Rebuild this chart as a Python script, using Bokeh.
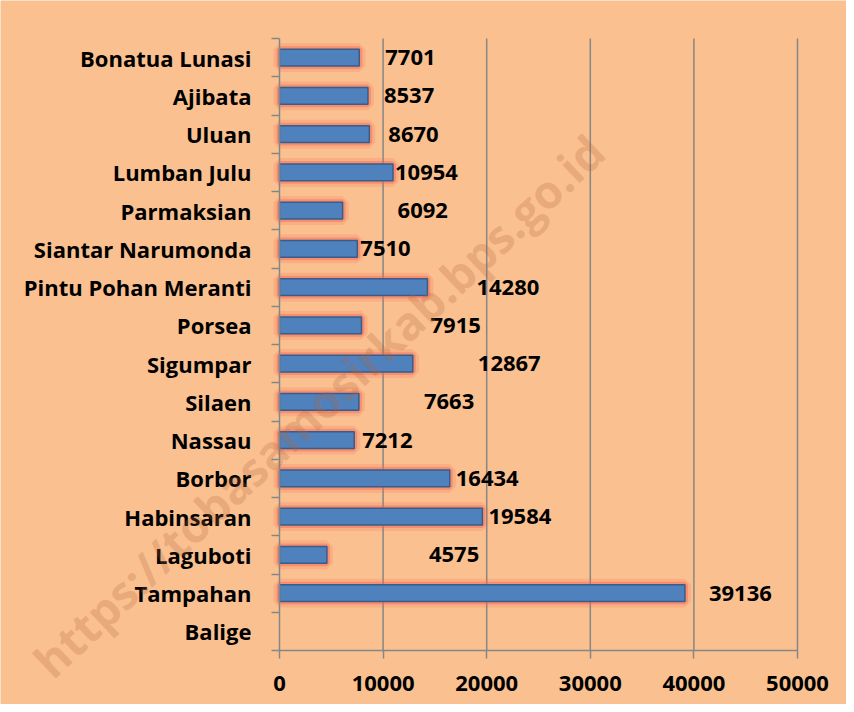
from bokeh.plotting import figure
from bokeh.models import Range1d, FixedTicker, ColumnDataSource, Label, LinearAxis
from bokeh.core.properties import value
from bokeh.embed import file_html
from bokeh.resources import INLINE

# data (top to bottom as shown)
categories = ["Bonatua Lunasi", "Ajibata", "Uluan", "Lumban Julu", "Parmaksian",
              "Siantar Narumonda", "Pintu Pohan Meranti", "Porsea", "Sigumpar",
              "Silaen", "Nassau", "Borbor", "Habinsaran", "Laguboti", "Tampahan", "Balige"]
values = [7701, 8537, 8670, 10954, 6092, 7510, 14280, 7915, 12867,
          7663, 7212, 16434, 19584, 4575, 39136, None]
x_ticks = [0, 10000, 20000, 30000, 40000, 50000]
# label nudges (pixels right of bar end) - style only
label_dx = [26, 16, 19, 2, 55, 3, 49, 69, 65, 65, 8, 6, 6, 102, 24, 0]

n = len(categories)
ys, xs, names, dxs = [], [], [], []
for i, (c, v) in enumerate(zip(categories, values)):
    if v is None:
        continue
    ys.append(n - 1 - i + 0.5)
    xs.append(v)
    names.append(str(v))
    dxs.append(label_dx[i])

src = ColumnDataSource(dict(y=ys, x=xs, t=names, dx=dxs))

BG = "#FAC090"
FONT = "Open Sans"
FS = "22px"
GRID = "#868686"

# layout: figure pixels; plot area spans px 279..797 (x) and 38..650 (y)
W, H = 846, 704
PL, PR, PT, PB = 279, 797, 38, 650
xmax = x_ticks[-1]
xppu = (PR - PL) / xmax
yppu = (PB - PT) / n
x_rng = Range1d(-PL / xppu, (W - PL) / xppu)
y_rng = Range1d(-(H - PB) / yppu, n + PT / yppu)

p = figure(width=W, height=H, output_backend="svg", toolbar_location=None,
           x_range=x_rng, y_range=y_rng, x_axis_type=None, y_axis_type=None,
           min_border=0, min_border_left=0, min_border_right=0,
           min_border_top=0, min_border_bottom=0)
p.background_fill_color = BG
p.border_fill_color = BG
p.outline_line_color = None
p.grid.visible = False

# vertical grid lines from the tick values
p.segment(x0=x_ticks[1:], y0=0, x1=x_ticks[1:], y1=n,
          line_color=GRID, line_width=1.5)

# glow
p.hbar(y="y", right="x", left=0, height=0.44, source=src, fill_color=None,
       line_color="#F36A55", line_width=12, line_alpha=0.2)
p.hbar(y="y", right="x", left=0, height=0.44, source=src, fill_color=None,
       line_color="#F36A55", line_width=6, line_alpha=0.45)
# bars
p.hbar(y="y", right="x", left=0, height=0.44, source=src, fill_color="#4F81BD",
       line_color="#385D8A", line_width=1.5)

# value labels
p.text(x="x", y="y", text="t", source=src, x_offset="dx",
       text_font=value(FONT), text_font_style="bold", text_font_size=FS,
       text_color="black", text_align="left", text_baseline="middle")

# x axis (fixed at y = 0)
xa = LinearAxis(fixed_location=0, bounds=(0, xmax))
xa.ticker = FixedTicker(ticks=x_ticks)
xa.axis_line_color = GRID
xa.axis_line_width = 1.5
xa.major_tick_line_color = GRID
xa.major_tick_line_width = 1.5
xa.major_tick_out = 8
xa.major_tick_in = 0
xa.minor_tick_line_color = None
xa.major_label_text_font = FONT
xa.major_label_text_font_style = "bold"
xa.major_label_text_font_size = FS
xa.major_label_text_color = "black"
xa.major_label_standoff = 17
p.add_layout(xa, "below")

# y axis (fixed at x = 0)
ya = LinearAxis(fixed_location=0, bounds=(0, n))
ya.ticker = FixedTicker(ticks=[i + 0.5 for i in range(n)], minor_ticks=list(range(n + 1)))
ya.major_label_overrides = {i + 0.5: categories[n - 1 - i] for i in range(n)}
ya.axis_line_color = GRID
ya.axis_line_width = 1.5
ya.major_tick_line_color = None
ya.major_tick_out = 0
ya.major_tick_in = 0
ya.minor_tick_line_color = GRID
ya.minor_tick_line_width = 1.5
ya.minor_tick_out = 8
ya.minor_tick_in = 0
ya.major_label_text_font = FONT
ya.major_label_text_font_style = "bold"
ya.major_label_text_font_size = FS
ya.major_label_text_color = "black"
ya.major_label_standoff = 20
p.add_layout(ya, "left")

# watermark
wm = Label(x=318, y=H - 405, x_units="screen", y_units="screen", level="overlay",
           text="https://tobasamosirkab.bps.go.id", angle=43.4,
           angle_units="deg", text_font=FONT, text_font_style="bold",
           text_font_size="46px", text_color="#B4643C", text_alpha=0.25,
           text_align="center", text_baseline="middle")
p.add_layout(wm)

open("out.html", "w").write(file_html(p, INLINE))
